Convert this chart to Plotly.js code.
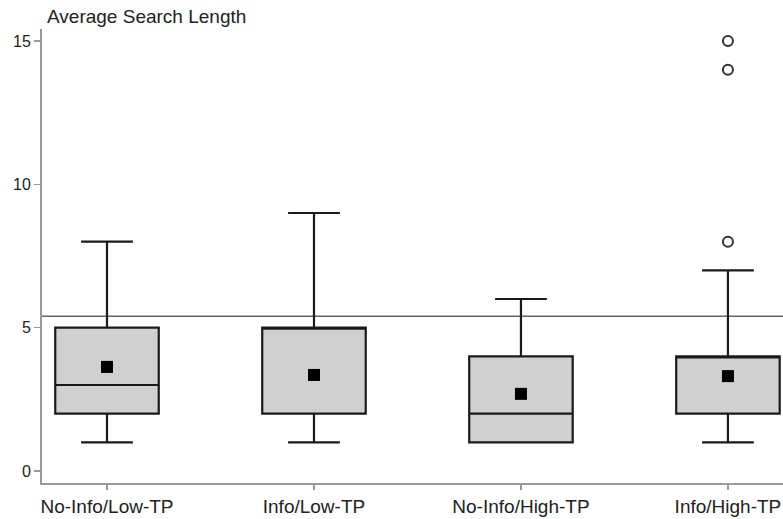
<!DOCTYPE html>
<html><head><meta charset="utf-8">
<script src="https://cdn.plot.ly/plotly-3.0.1.min.js"></script>
<style>html,body{margin:0;padding:0;background:#fff}#chart{width:783px;height:519px}</style>
</head><body><div id="chart"></div>
<script>
const categories = ["No-Info/Low-TP", "Info/Low-TP", "No-Info/High-TP", "Info/High-TP"];
const lowerWhisker = [1, 1, 1, 1];
const q1 = [2, 2, 1, 2];
const median = [3, 5, 2, 4];
const q3 = [5, 5, 4, 4];
const upperWhisker = [8, 9, 6, 7];
const means = [3.63, 3.35, 2.69, 3.31];
const outlierX = ["Info/High-TP", "Info/High-TP", "Info/High-TP"];
const outlierY = [8, 14, 15];
const refLine = 5.4;
const yTicks = [0, 5, 10, 15];

const font = {family: "Liberation Sans, Arial, sans-serif", size: 19, color: "#222"};
const yFont = {family: "Liberation Sans, Arial, sans-serif", size: 16, color: "#222"};

const traces = [
  {
    type: "box", x: categories, q1: q1, median: median, q3: q3,
    lowerfence: lowerWhisker, upperfence: upperWhisker,
    width: 0.5, whiskerwidth: 0.5,
    fillcolor: "#d0d0d0",
    line: {color: "#1a1a1a", width: 2.2},
    boxpoints: false, hoverinfo: "skip", showlegend: false
  },
  {
    type: "scatter", mode: "markers", x: categories, y: means,
    marker: {symbol: "square", size: 12, color: "#000"},
    showlegend: false, hoverinfo: "skip"
  },
  {
    type: "scatter", mode: "markers", x: outlierX, y: outlierY,
    marker: {symbol: "circle-open", size: 10, color: "#333", line: {width: 2}},
    showlegend: false, hoverinfo: "skip"
  }
];

const layout = {
  width: 783, height: 519,
  margin: {l: 42, r: 0, t: 29, b: 36},
  paper_bgcolor: "#fff", plot_bgcolor: "#fff",
  font: font,
  showlegend: false,
  xaxis: {
    type: "category", range: [-0.314, 3.266],
    showline: true, linecolor: "#999", linewidth: 2,
    ticks: "outside", ticklen: 5, tickcolor: "#999", tickwidth: 1.5,
    showgrid: false, zeroline: false, tickfont: font
  },
  yaxis: {
    range: [-0.42, 15.42], tickvals: yTicks,
    showline: true, linecolor: "#999", linewidth: 2,
    ticks: "outside", ticklen: 6, tickcolor: "#999", tickwidth: 1.5,
    showgrid: false, zeroline: false, tickfont: yFont
  },
  shapes: [{
    type: "line", xref: "paper", x0: 0, x1: 1, yref: "y", y0: refLine, y1: refLine,
    line: {color: "#666", width: 1.5}, layer: "below"
  }],
  annotations: [{
    text: "Average Search Length", xref: "paper", yref: "paper",
    x: 0.004, y: 1, yshift: 13, xanchor: "left", yanchor: "middle",
    showarrow: false, font: font
  }]
};

Plotly.newPlot("chart", traces, layout, {displayModeBar: false, staticPlot: true});
</script></body></html>
